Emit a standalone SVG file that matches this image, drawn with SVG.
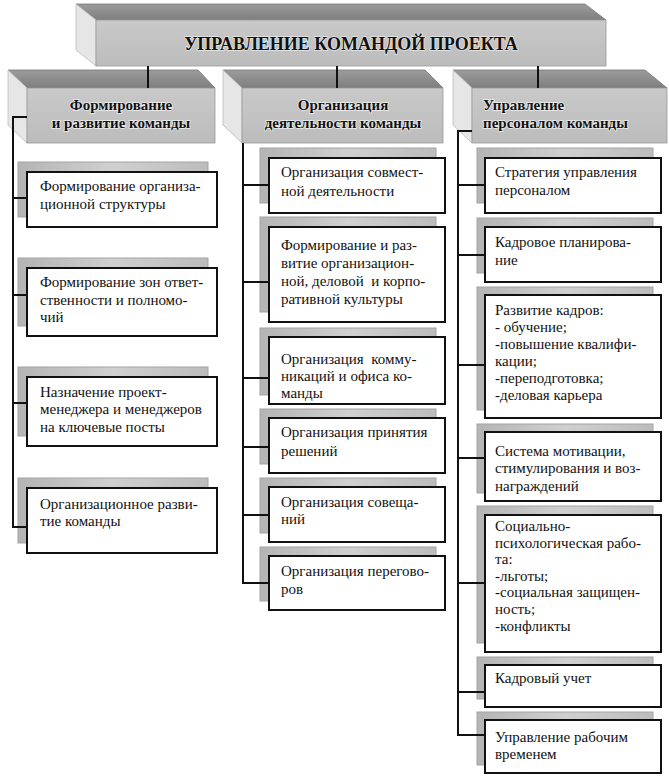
<svg xmlns="http://www.w3.org/2000/svg" width="669" height="782" viewBox="0 0 669 782">
<defs>
<linearGradient id="gTop" x1="0" y1="0" x2="0" y2="1">
<stop offset="0" stop-color="#9c9c9c"/><stop offset="1" stop-color="#7e7e7e"/>
</linearGradient>
<linearGradient id="gFront" x1="0" y1="0" x2="0" y2="1">
<stop offset="0" stop-color="#c9c9c9"/><stop offset="1" stop-color="#bcbcbc"/>
</linearGradient>
<linearGradient id="gShadow" x1="0" y1="0" x2="1" y2="0">
<stop offset="0" stop-color="#b4b4b4"/><stop offset="0.5" stop-color="#d0d0d0"/><stop offset="1" stop-color="#bcbcbc"/>
</linearGradient>
</defs>
<style>
.top{fill:url(#gTop);stroke:#777;stroke-width:0.8}
.front{fill:url(#gFront);stroke:#999;stroke-width:0.8}
.side{fill:#e6e6e6;stroke:#bbb;stroke-width:0.8}
.sh{fill:url(#gShadow);stroke:#a4a4a4;stroke-width:1}
.bx{fill:#fff;stroke:#111;stroke-width:2}
.ln{fill:none;stroke:#111;stroke-width:2}
text{font-family:"Liberation Serif","Times New Roman",serif;fill:#111;white-space:pre}
.t{font-size:15px}
.h{font-size:15px;font-weight:bold;paint-order:stroke;stroke:#eeeeee;stroke-width:1.5}
.title{font-size:18px;font-weight:bold;paint-order:stroke;stroke:#e6e6e6;stroke-width:1.5}
</style>

<g id="root">
<polygon class="top" points="76,4 585,4 606,20 96,20"/>
<polygon class="side" points="76,4 96,20 96,66 76,50"/>
<rect class="front" x="96" y="20" width="510" height="46"/>
<text class="title" x="351" y="50" text-anchor="middle">УПРАВЛЕНИЕ КОМАНДОЙ ПРОЕКТА</text>
</g>

<g id="h1">
<polygon class="top" points="8,70 198,70 215,88 27,88"/>
<polygon class="side" points="8,70 27,88 27,143 8,125"/>
<rect class="front" x="27" y="88" width="188" height="55"/>
<text class="h" x="121" y="110" text-anchor="middle">Формирование</text>
<text class="h" x="121" y="128" text-anchor="middle">и развитие команды</text>
</g>
<g id="h2">
<polygon class="top" points="223,70 425,70 443,88 242,88"/>
<polygon class="side" points="223,70 242,88 242,143 223,125"/>
<rect class="front" x="242" y="88" width="201" height="55"/>
<text class="h" x="343" y="110" text-anchor="middle">Организация</text>
<text class="h" x="343" y="128" text-anchor="middle">деятельности команды</text>
</g>
<g id="h3">
<polygon class="top" points="453,70 645,70 667,88 472,88"/>
<polygon class="side" points="453,70 472,88 472,143 453,125"/>
<rect class="front" x="472" y="88" width="195" height="55"/>
<text class="h" x="483" y="110">Управление</text>
<text class="h" x="483" y="128">персоналом команды</text>
</g>

<!-- left column -->
<g id="l1">
<rect class="sh" x="18" y="162" width="190" height="55"/>
<rect class="bx" x="27" y="172" width="190" height="55"/>
<text class="t" x="40" y="191">Формирование организа-</text>
<text class="t" x="40" y="209">ционной структуры</text>
</g>
<g id="l2">
<rect class="sh" x="18" y="258" width="190" height="68"/>
<rect class="bx" x="27" y="268" width="190" height="68"/>
<text class="t" x="40" y="287">Формирование зон ответ-</text>
<text class="t" x="40" y="305">ственности и полномо-</text>
<text class="t" x="40" y="322">чий</text>
</g>
<g id="l3">
<rect class="sh" x="18" y="367" width="190" height="69"/>
<rect class="bx" x="27" y="377" width="190" height="69"/>
<text class="t" x="40" y="397">Назначение проект-</text>
<text class="t" x="40" y="414">менеджера и менеджеров</text>
<text class="t" x="40" y="432">на ключевые посты</text>
</g>
<g id="l4">
<rect class="sh" x="18" y="478" width="190" height="65"/>
<rect class="bx" x="27" y="488" width="190" height="65"/>
<text class="t" x="40" y="509">Организационное разви-</text>
<text class="t" x="40" y="526">тие команды</text>
</g>

<!-- middle column -->
<g id="m1">
<rect class="sh" x="260" y="148" width="176" height="55"/>
<rect class="bx" x="269" y="158" width="176" height="55"/>
<text class="t" x="281" y="177">Организация совмест-</text>
<text class="t" x="281" y="196">ной деятельности</text>
</g>
<g id="m2">
<rect class="sh" x="260" y="217" width="176" height="95"/>
<rect class="bx" x="269" y="227" width="176" height="95"/>
<text class="t" x="281" y="250">Формирование и раз-</text>
<text class="t" x="281" y="268">витие организацион-</text>
<text class="t" x="281" y="286">ной, деловой  и корпо-</text>
<text class="t" x="281" y="304">ративной культуры</text>
</g>
<g id="m3">
<rect class="sh" x="260" y="328" width="176" height="67"/>
<rect class="bx" x="269" y="337" width="176" height="67"/>
<text class="t" x="281" y="364">Организация  комму-</text>
<text class="t" x="281" y="381">никаций и офиса ко-</text>
<text class="t" x="281" y="398">манды</text>
</g>
<g id="m4">
<rect class="sh" x="260" y="409" width="176" height="55"/>
<rect class="bx" x="269" y="418" width="176" height="55"/>
<text class="t" x="281" y="437">Организация принятия</text>
<text class="t" x="281" y="456">решений</text>
</g>
<g id="m5">
<rect class="sh" x="260" y="478" width="176" height="55"/>
<rect class="bx" x="269" y="487" width="176" height="55"/>
<text class="t" x="281" y="507">Организация совеща-</text>
<text class="t" x="281" y="524">ний</text>
</g>
<g id="m6">
<rect class="sh" x="260" y="547" width="176" height="54"/>
<rect class="bx" x="269" y="556" width="176" height="54"/>
<text class="t" x="281" y="576">Организация перегово-</text>
<text class="t" x="281" y="594">ров</text>
</g>

<!-- right column -->
<g id="r1">
<rect class="sh" x="477" y="148" width="176" height="55"/>
<rect class="bx" x="485" y="158" width="176" height="55"/>
<text class="t" x="495" y="177">Стратегия управления</text>
<text class="t" x="495" y="195">персоналом</text>
</g>
<g id="r2">
<rect class="sh" x="477" y="218" width="176" height="55"/>
<rect class="bx" x="485" y="227" width="176" height="55"/>
<text class="t" x="495" y="247">Кадровое планирова-</text>
<text class="t" x="495" y="265">ние</text>
</g>
<g id="r3">
<rect class="sh" x="477" y="287" width="176" height="123"/>
<rect class="bx" x="485" y="295" width="176" height="123"/>
<text class="t" x="495" y="315">Развитие кадров:</text>
<text class="t" x="495" y="332">- обучение;</text>
<text class="t" x="495" y="349">-повышение квалифи-</text>
<text class="t" x="495" y="366">кации;</text>
<text class="t" x="495" y="383">-переподготовка;</text>
<text class="t" x="495" y="400">-деловая карьера</text>
</g>
<g id="r4">
<rect class="sh" x="477" y="424" width="176" height="69"/>
<rect class="bx" x="485" y="432" width="176" height="69"/>
<text class="t" x="495" y="456">Система мотивации,</text>
<text class="t" x="495" y="473">стимулирования и воз-</text>
<text class="t" x="495" y="491">награждений</text>
</g>
<g id="r5">
<rect class="sh" x="477" y="506" width="176" height="137"/>
<rect class="bx" x="485" y="515" width="176" height="137"/>
<text class="t" x="495" y="531">Социально-</text>
<text class="t" x="495" y="548">психологическая рабо-</text>
<text class="t" x="495" y="564">та:</text>
<text class="t" x="495" y="581">-льготы;</text>
<text class="t" x="495" y="597">-социальная защищен-</text>
<text class="t" x="495" y="614">ность;</text>
<text class="t" x="495" y="631">-конфликты</text>
</g>
<g id="r6">
<rect class="sh" x="477" y="657" width="176" height="42"/>
<rect class="bx" x="485" y="665" width="176" height="42"/>
<text class="t" x="495" y="683">Кадровый учет</text>
</g>
<g id="r7">
<rect class="sh" x="477" y="712" width="176" height="53"/>
<rect class="bx" x="485" y="720" width="176" height="53"/>
<text class="t" x="495" y="742">Управление рабочим</text>
<text class="t" x="495" y="759">временем</text>
</g>

<g id="connectors">
<path class="ln" d="M148 66V88M337 66V88M538 66V88"/>
<path class="ln" d="M27 117H13V527H27M13 198H27M13 295H27M13 403H27"/>
<path class="ln" d="M243 143V583H269M243 185H269M243 282H269M243 378H269M243 447H269M243 515H269"/>
<path class="ln" d="M472 131H458V735H485M458 185H485M458 255H485M458 365H485M458 458H485M458 583H485M458 692H485"/>
</g>
</svg>
